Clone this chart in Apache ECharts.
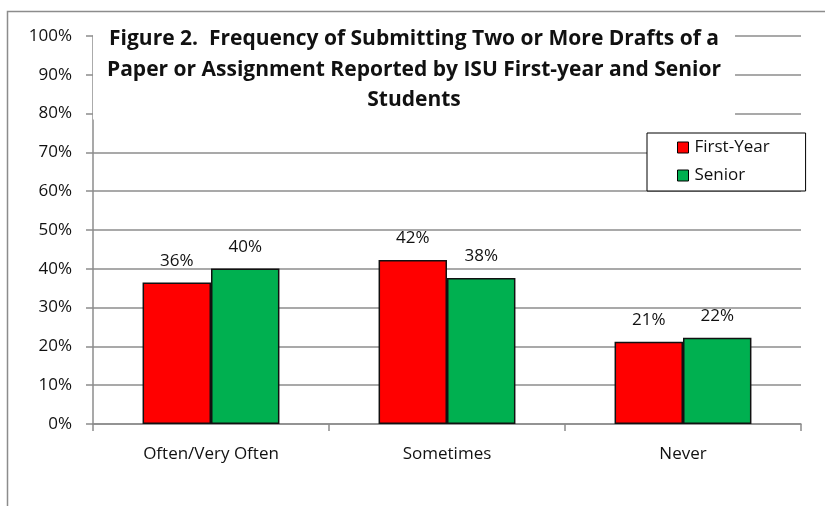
<!DOCTYPE html>
<html>
<head>
<meta charset="utf-8">
<script src="https://cdn.jsdelivr.net/npm/echarts@6/dist/echarts.min.js"></script>
<style>
html,body{margin:0;padding:0;background:#fff;}
#chart{width:825px;height:506px;}
</style>
</head>
<body>
<div id="chart"></div>
<script>
const categories = ['Often/Very Often', 'Sometimes', 'Never'];
const seriesNames = ['First-Year', 'Senior'];
const firstYear = [36.5, 42.3, 21.2];
const senior = [40.1, 37.6, 22.2];
const firstYearLabels = ['36%', '42%', '21%'];
const seniorLabels = ['40%', '38%', '22%'];
const titleText = 'Figure 2.  Frequency of Submitting Two or More Drafts of a\nPaper or Assignment Reported by ISU First-year and Senior\nStudents';

const FONT = '"Open Sans", Lato, sans-serif';
const chart = echarts.init(document.getElementById('chart'));

function makeData(vals, labels) {
  return vals.map((v, i) => ({ value: v, labelText: labels[i] }));
}

chart.setOption({
  animation: false,
  backgroundColor: '#fff',
  graphic: [{
    type: 'rect',
    shape: { x: 7.5, y: 11.5, width: 900, height: 600 },
    style: { fill: 'none', stroke: '#8c8c8c', lineWidth: 1.5 },
    z: 0
  }],
  title: {
    text: titleText,
    left: 400,
    textAlign: 'center',
    top: 20,
    padding: [4, 14, 4, 14],
    backgroundColor: '#fff',
    textStyle: {
      fontFamily: FONT,
      fontSize: 21,
      fontWeight: 'bold',
      color: '#111',
      lineHeight: 30.5
    }
  },
  legend: {
    orient: 'vertical',
    left: 647,
    top: 133,
    padding: [6, 36, 7, 30],
    itemGap: 11,
    itemWidth: 11,
    itemHeight: 11,
    backgroundColor: '#fff',
    borderColor: '#000',
    borderWidth: 1,
    borderRadius: 0,
    icon: 'rect',
    itemStyle: { borderColor: '#000', borderWidth: 1 },
    textStyle: { fontFamily: FONT, fontSize: 17, color: '#111', padding: [0, 0, 0, 1] },
    data: seriesNames
  },
  grid: { left: 93, right: 24, top: 36, bottom: 82, containLabel: false },
  xAxis: {
    type: 'category',
    data: categories,
    axisLine: { lineStyle: { color: '#8c8c8c', width: 1.5 } },
    axisTick: { show: true, length: 7, inside: false, alignWithLabel: false, lineStyle: { color: '#8c8c8c', width: 1.5 } },
    axisLabel: { fontFamily: FONT, fontSize: 17, color: '#111', margin: 22 }
  },
  yAxis: {
    type: 'value',
    min: 0,
    max: 100,
    interval: 10,
    axisLine: { show: true, lineStyle: { color: '#8c8c8c', width: 1.5 } },
    axisTick: { show: true, length: 7, lineStyle: { color: '#8c8c8c', width: 1.5 } },
    axisLabel: { fontFamily: FONT, fontSize: 17, color: '#111', margin: 21, formatter: '{value}%' },
    splitLine: { show: true, lineStyle: { color: '#8c8c8c', width: 1.5 } }
  },
  series: [
    {
      name: seriesNames[0],
      type: 'bar',
      data: makeData(firstYear, firstYearLabels),
      barGap: '0%',
      barCategoryGap: '42%',
      itemStyle: { color: '#FF0000', borderColor: '#111', borderWidth: 1.5 },
      label: {
        show: true, position: 'top', distance: 13,
        fontFamily: FONT, fontSize: 17, color: '#111',
        formatter: p => p.data.labelText
      }
    },
    {
      name: seriesNames[1],
      type: 'bar',
      data: makeData(senior, seniorLabels),
      barGap: '0%',
      barCategoryGap: '42%',
      itemStyle: { color: '#00B050', borderColor: '#111', borderWidth: 1.5 },
      label: {
        show: true, position: 'top', distance: 13,
        fontFamily: FONT, fontSize: 17, color: '#111',
        formatter: p => p.data.labelText
      }
    }
  ]
});
</script>
</body>
</html>
